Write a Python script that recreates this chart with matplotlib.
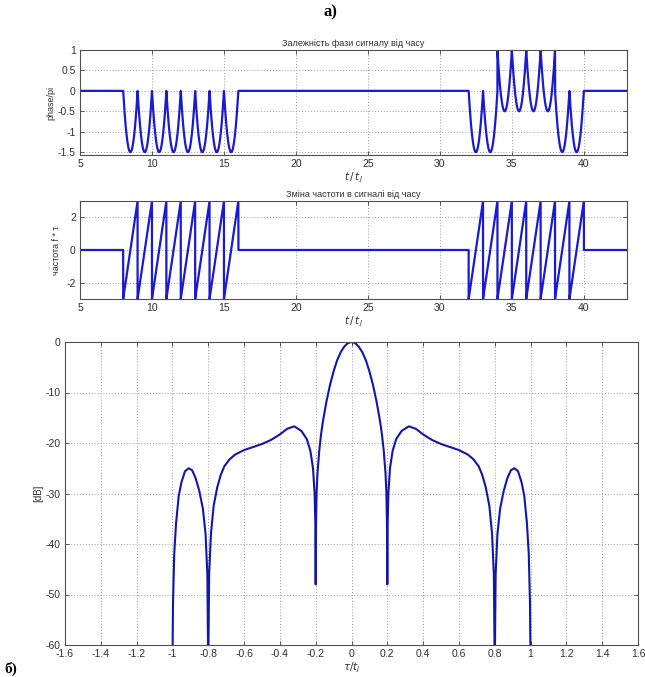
import numpy as np
import matplotlib
matplotlib.use("Agg")
import matplotlib.pyplot as plt

plt.rcParams['font.family'] = ['Liberation Sans Narrow', 'Liberation Sans', 'DejaVu Sans']
plt.rcParams['axes.unicode_minus'] = False

# ---------------- data ----------------
# signal: two bursts of linear-FM chips (unit length), each chip sweeps f from -3 to 3
burst_starts = [8, 32]
chips_per_burst = 8
f_low, f_high = -3.0, 3.0
# extra phase (in units of pi) per chip of each burst
phase_code_1 = [0, 0, 0, 0, 0, 0, 0, 0]
phase_code_2 = [0, 0, 1, 1, 1, 1, 0, 0]
t_min, t_max = 5, 43

# spectrum (right half, symmetric), tau/t_j vs dB
tau_right = [0.00, 0.02, 0.04, 0.06, 0.08, 0.10, 0.12, 0.14, 0.16, 0.17, 0.18,
             0.19, 0.195, 0.198, 0.20, 0.202, 0.206, 0.215, 0.23, 0.25, 0.28,
             0.32, 0.36, 0.40, 0.45, 0.50, 0.55, 0.60, 0.65, 0.68, 0.71, 0.73,
             0.75, 0.77, 0.785, 0.795, 0.80, 0.805, 0.815, 0.83, 0.85, 0.87,
             0.89, 0.91, 0.93, 0.95, 0.965, 0.98, 0.99, 0.997, 1.00]
db_right = [0.0, -0.2, -0.9, -2.0, -3.6, -5.8, -8.5, -11.8, -15.8, -18.3, -21.5,
            -26.0, -30.0, -36.0, -48.0, -36.0, -30.0, -25.0, -21.5, -19.2, -17.6,
            -16.7, -17.2, -18.3, -19.4, -20.2, -20.8, -21.4, -22.3, -23.2, -24.6, -26.3,
            -28.8, -32.5, -38.0, -46.0, -65.0, -46.0, -38.0, -33.0, -29.5, -27.0,
            -25.4, -25.0, -25.6, -27.8, -30.5, -36.0, -42.0, -52.0, -65.0]

# ---------------- build signal ----------------
t = np.linspace(t_min, t_max, 20001)
freq = np.zeros_like(t)
phase = np.zeros_like(t)
bw = f_high - f_low
for start, code in zip(burst_starts, [phase_code_1, phase_code_2]):
    for k in range(chips_per_burst):
        a = start + k
        m = (t >= a) & (t < a + 1)
        u = t[m] - a
        freq[m] = f_low + bw * u
        # phase/pi = 2 * integral of frequency over the chip
        phase[m] = 2 * (f_low * u + bw * u ** 2 / 2) + code[k]

tau = np.concatenate([-np.array(tau_right[::-1]), np.array(tau_right[1:])])
db = np.concatenate([np.array(db_right[::-1]), np.array(db_right[1:])])

# ---------------- figure ----------------
fig = plt.figure(figsize=(6.45, 6.77), dpi=100)
W, H = 645, 677


def ax_box(l, r, top, bot):
    return [l / W, 1 - bot / H, (r - l) / W, (bot - top) / H]


line_col = '#1a1ad0'
tick_col = '#404040'
fs = 7.5


def style(ax):
    ax.grid(True, linestyle=(0, (1, 2)), color='#9a9a9a', linewidth=0.7)
    ax.tick_params(direction='in', length=3, width=0.6, colors=tick_col,
                   labelsize=fs, top=True, right=True, labelcolor='#303030', pad=3)
    for s in ax.spines.values():
        s.set_color('#505050')
        s.set_linewidth(0.8)


ax1 = fig.add_axes(ax_box(80, 627, 50, 155))
ax1.plot(t, phase, color=line_col, lw=1.6)
ax1.set_xlim(t_min, t_max)
ax1.set_ylim(-1.57, 1)
ax1.set_xticks([5, 10, 15, 20, 25, 30, 35, 40])
ax1.set_yticks([-1.5, -1, -0.5, 0, 0.5, 1])
ax1.set_yticklabels(['-1.5', '-1', '-0.5', '0', '0.5', '1'])
style(ax1)
ax1.set_title('Залежність фази сигналу від часу', fontsize=6.5, color='#303030', pad=3)
ax1.set_ylabel('phase/pi', fontsize=6.5, color='#303030', labelpad=2)
ax1.set_xlabel('$t\\,/\\,t_j$', fontsize=7.5, color='#303030', labelpad=1)

ax2 = fig.add_axes(ax_box(80, 627, 201, 299))
ax2.plot(t, freq, color=line_col, lw=1.6)
ax2.set_xlim(t_min, t_max)
ax2.set_ylim(-3, 3)
ax2.set_xticks([5, 10, 15, 20, 25, 30, 35, 40])
ax2.set_yticks([-2, 0, 2])
style(ax2)
ax2.set_title('Зміна частоти в сигналі від часу', fontsize=6.5, color='#303030', pad=3)
ax2.set_ylabel('частота f * τ', fontsize=6.5, color='#303030', labelpad=4)
ax2.set_xlabel('$t\\,/\\,t_j$', fontsize=7.5, color='#303030', labelpad=1)

ax3 = fig.add_axes(ax_box(65, 638, 342, 645))
ax3.plot(tau, db, color='#1515a8', lw=1.5)
ax3.set_xlim(-1.6, 1.6)
ax3.set_ylim(-60, 0)
xt = np.round(np.arange(-1.6, 1.61, 0.2), 1)
ax3.set_xticks(xt)
ax3.set_xticklabels([('%g' % v) if v != 0 else '0' for v in xt])
ax3.set_yticks([-60, -50, -40, -30, -20, -10, 0])
style(ax3)
ax3.set_ylabel('[dB]', fontsize=7, color='#303030', labelpad=2)
ax3.set_xlabel('$\\tau/t_j$', fontsize=7.5, color='#303030', labelpad=1)

fig.text(330 / W, 1 - 12 / H, 'а)', fontsize=12, fontweight='bold',
         family=['Liberation Serif', 'DejaVu Serif'], ha='center', va='center')
fig.text(4 / W, 1 - 676 / H, 'б)', fontsize=11, fontweight='bold',
         family=['Liberation Serif', 'DejaVu Serif'], ha='left', va='bottom')

fig.savefig('out.png', dpi=100)
